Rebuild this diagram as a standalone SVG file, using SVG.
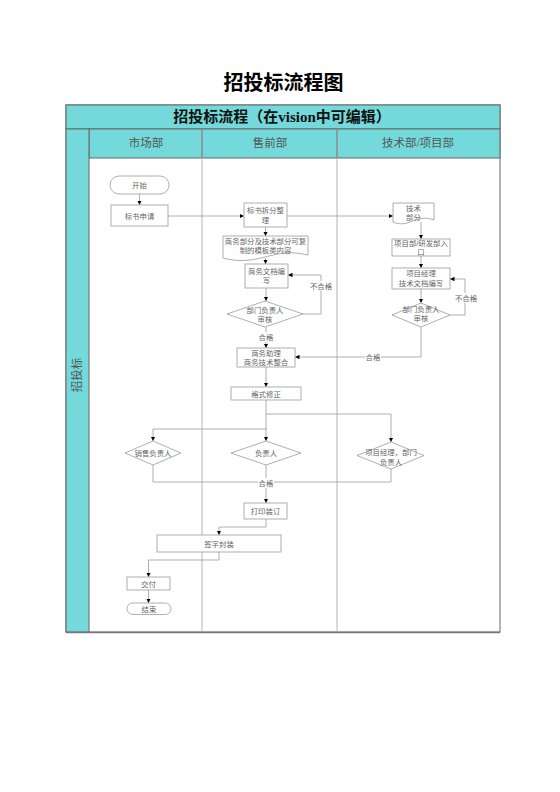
<svg xmlns="http://www.w3.org/2000/svg" width="560" height="792" viewBox="0 0 560 792">
<defs>
<marker id="arr" markerUnits="userSpaceOnUse" markerWidth="5" markerHeight="5" refX="4.5" refY="2.25" orient="auto">
<path d="M0,0 L4.5,2.25 L0,4.5 z" fill="#000"/>
</marker>
</defs>
<style>
.bg{fill:#fff}
.teal{fill:#73D9DA;stroke:#666;stroke-width:1}
.lane{stroke:#b5b5b5;stroke-width:1;fill:none}
.node{fill:#fff;stroke:#9a9a9a;stroke-width:0.8}
.t{font-family:"Liberation Sans","Noto Sans CJK SC",sans-serif;font-size:7.4px;fill:#666;text-anchor:middle}
.hd{font-family:"Liberation Serif","Noto Sans CJK SC",serif;font-size:11.5px;fill:#555;text-anchor:middle}
.con{fill:none;stroke:#999;stroke-width:0.8}
.arrow{marker-end:url(#arr)}
.lbl{font-family:"Liberation Sans","Noto Sans CJK SC",sans-serif;font-size:7.4px;fill:#666;text-anchor:middle}
</style>
<rect class="bg" x="0" y="0" width="560" height="792"/>
<text x="283.5" y="90" font-family="Liberation Sans,Noto Sans CJK SC,sans-serif" font-size="20" font-weight="bold" text-anchor="middle" fill="#000">招投标流程图</text>

<g id="table">
<rect x="66" y="105" width="434" height="527" fill="#fff" stroke="#666" stroke-width="1"/>
<rect class="teal" x="66" y="105" width="434" height="24"/>
<rect class="teal" x="89" y="129" width="411" height="29"/>
<rect class="teal" x="66" y="129" width="23" height="503"/>
<line x1="202" y1="129" x2="202" y2="632" class="lane"/>
<line x1="337" y1="129" x2="337" y2="632" class="lane"/>
<line x1="202" y1="129" x2="202" y2="158" stroke="#777" stroke-width="1"/>
<line x1="337" y1="129" x2="337" y2="158" stroke="#777" stroke-width="1"/>
<line x1="66" y1="632.5" x2="500" y2="632.5" stroke="#777" stroke-width="1.6"/>
<text x="282" y="122" font-family="Liberation Serif,Noto Sans CJK SC,serif" font-size="15" font-weight="bold" text-anchor="middle" fill="#111">招投标流程（在vision中可编辑）</text>
<text class="hd" x="146" y="147">市场部</text>
<text class="hd" x="270" y="147">售前部</text>
<text class="hd" x="418" y="147">技术部/项目部</text>
<text class="hd" x="0" y="0" transform="translate(81,375) rotate(-90)">招投标</text>
</g>

<g id="connectors">
<path class="con arrow" d="M139.5 194 V205"/>
<path class="con arrow" d="M168 216 H244"/>
<path class="con arrow" d="M287 216 H393"/>
<path class="con arrow" d="M265.5 227 V236"/>
<path class="con arrow" d="M265.5 258 V264"/>
<path class="con arrow" d="M266 288 V301"/>
<path class="con arrow" d="M303 314 H321 V275 H288"/>
<path class="con arrow" d="M266 327 V348"/>
<path class="con arrow" d="M266 367 V387"/>
<path class="con arrow" d="M421 222 V239"/>
<path class="con arrow" d="M421 256 V268"/>
<path class="con arrow" d="M421 289 V303"/>
<path class="con arrow" d="M450 315 H465 V279 H450"/>
<path class="con arrow" d="M421 327 V357 H295"/>
<path class="con arrow" d="M266 400 V441"/>
<path class="con arrow" d="M266 414 H391 V442"/>
<path class="con arrow" d="M266 429 H153 V441"/>
<path class="con" d="M153 465 V482 H266"/>
<path class="con" d="M391 469 V482 H266"/>
<path class="con arrow" d="M266 465 V503"/>
<path class="con arrow" d="M266 519 V527 H219 V535"/>
<path class="con arrow" d="M219 552 V560 H148.5 V577"/>
<path class="con arrow" d="M148.5 590 V603"/>
<rect x="310" y="281" width="22" height="10" fill="#fff"/>
<text class="lbl" x="321" y="289">不合格</text>
<rect x="455" y="293" width="22" height="10" fill="#fff"/>
<text class="lbl" x="466" y="301">不合格</text>
<rect x="258" y="332" width="16" height="10" fill="#fff"/>
<text class="lbl" x="266" y="340">合格</text>
<rect x="365" y="352" width="16" height="10" fill="#fff"/>
<text class="lbl" x="373" y="360">合格</text>
<rect x="258" y="478" width="16" height="10" fill="#fff"/>
<text class="lbl" x="266" y="486">合格</text>
</g>

<g id="start">
<rect class="node" x="110" y="176" width="59" height="18" rx="9" ry="9"/>
<text class="t" x="139.5" y="188">开始</text>
</g>
<g id="apply">
<rect class="node" x="111" y="205" width="57" height="21"/>
<text class="t" x="139.5" y="218.5">标书申请</text>
</g>
<g id="split">
<rect class="node" x="244" y="203" width="43" height="24"/>
<text class="t" x="265.5" y="213">标书拆分整</text>
<text class="t" x="265.5" y="223">理</text>
</g>
<g id="template">
<path class="node" d="M223 236 H308 V255 C290 251 280 253 265 257 C250 261 238 262 223 258 Z"/>
<text class="t" x="265.5" y="244">商务部分及技术部分可复</text>
<text class="t" x="265.5" y="252.5">制的模板类内容</text>
</g>
<g id="bizdoc">
<rect class="node" x="245" y="264" width="43" height="24"/>
<text class="t" x="266.5" y="274">商务文档编</text>
<text class="t" x="266.5" y="283">写</text>
</g>
<g id="review1">
<polygon class="node" points="265,301 303,314 265,327 227,314"/>
<text class="t" x="265" y="313">部门负责人</text>
<text class="t" x="265" y="322">审核</text>
</g>
<g id="integrate">
<rect class="node" x="237" y="348" width="58" height="19"/>
<text class="t" x="266" y="355.5">商务助理</text>
<text class="t" x="266" y="365">商务技术整合</text>
</g>
<g id="format">
<rect class="node" x="231" y="387" width="70" height="13"/>
<text class="t" x="266" y="396.5">格式修正</text>
</g>
<g id="techpart">
<path class="node" d="M393 203 H434 V220 C426 217 420 218 413 221 C406 224 399 225 393 222 Z"/>
<text class="t" x="413.5" y="211">技术</text>
<text class="t" x="413.5" y="219.5">部分</text>
</g>
<g id="entry">
<rect class="node" x="392" y="239" width="58" height="17"/>
<text class="t" x="421" y="246">项目部/研发部入</text>
<text class="t" x="421" y="255">口</text>
</g>
<g id="techdoc">
<rect class="node" x="392" y="268" width="58" height="21"/>
<text class="t" x="421" y="276">项目经理</text>
<text class="t" x="421" y="286">技术文档编写</text>
</g>
<g id="review2">
<polygon class="node" points="421,303 450,315 421,327 392,315"/>
<text class="t" x="421" y="312">部门负责人</text>
<text class="t" x="421" y="321">审核</text>
</g>
<g id="sales">
<polygon class="node" points="153,441 181,453 153,465 125,453"/>
<text class="t" x="153" y="456">销售负责人</text>
</g>
<g id="owner">
<polygon class="node" points="266,441 301,453 266,465 231,453"/>
<text class="t" x="266" y="456">负责人</text>
</g>
<g id="pm">
<polygon class="node" points="391,442 424,455.5 391,469 357,455.5"/>
<text class="t" x="391" y="455">项目经理，部门</text>
<text class="t" x="391" y="465">负责人</text>
</g>
<g id="print">
<rect class="node" x="244" y="503" width="43" height="16"/>
<text class="t" x="265.5" y="514">打印装订</text>
</g>
<g id="sign">
<rect class="node" x="157" y="535" width="124" height="17"/>
<text class="t" x="219" y="546.5">签字封装</text>
</g>
<g id="deliver">
<rect class="node" x="127" y="577" width="43" height="13"/>
<text class="t" x="148.5" y="586.5">交付</text>
</g>
<g id="end">
<rect class="node" x="127" y="603" width="44" height="11.5" rx="5.75" ry="5.75"/>
<text class="t" x="149" y="611.5">结束</text>
</g>
</svg>
